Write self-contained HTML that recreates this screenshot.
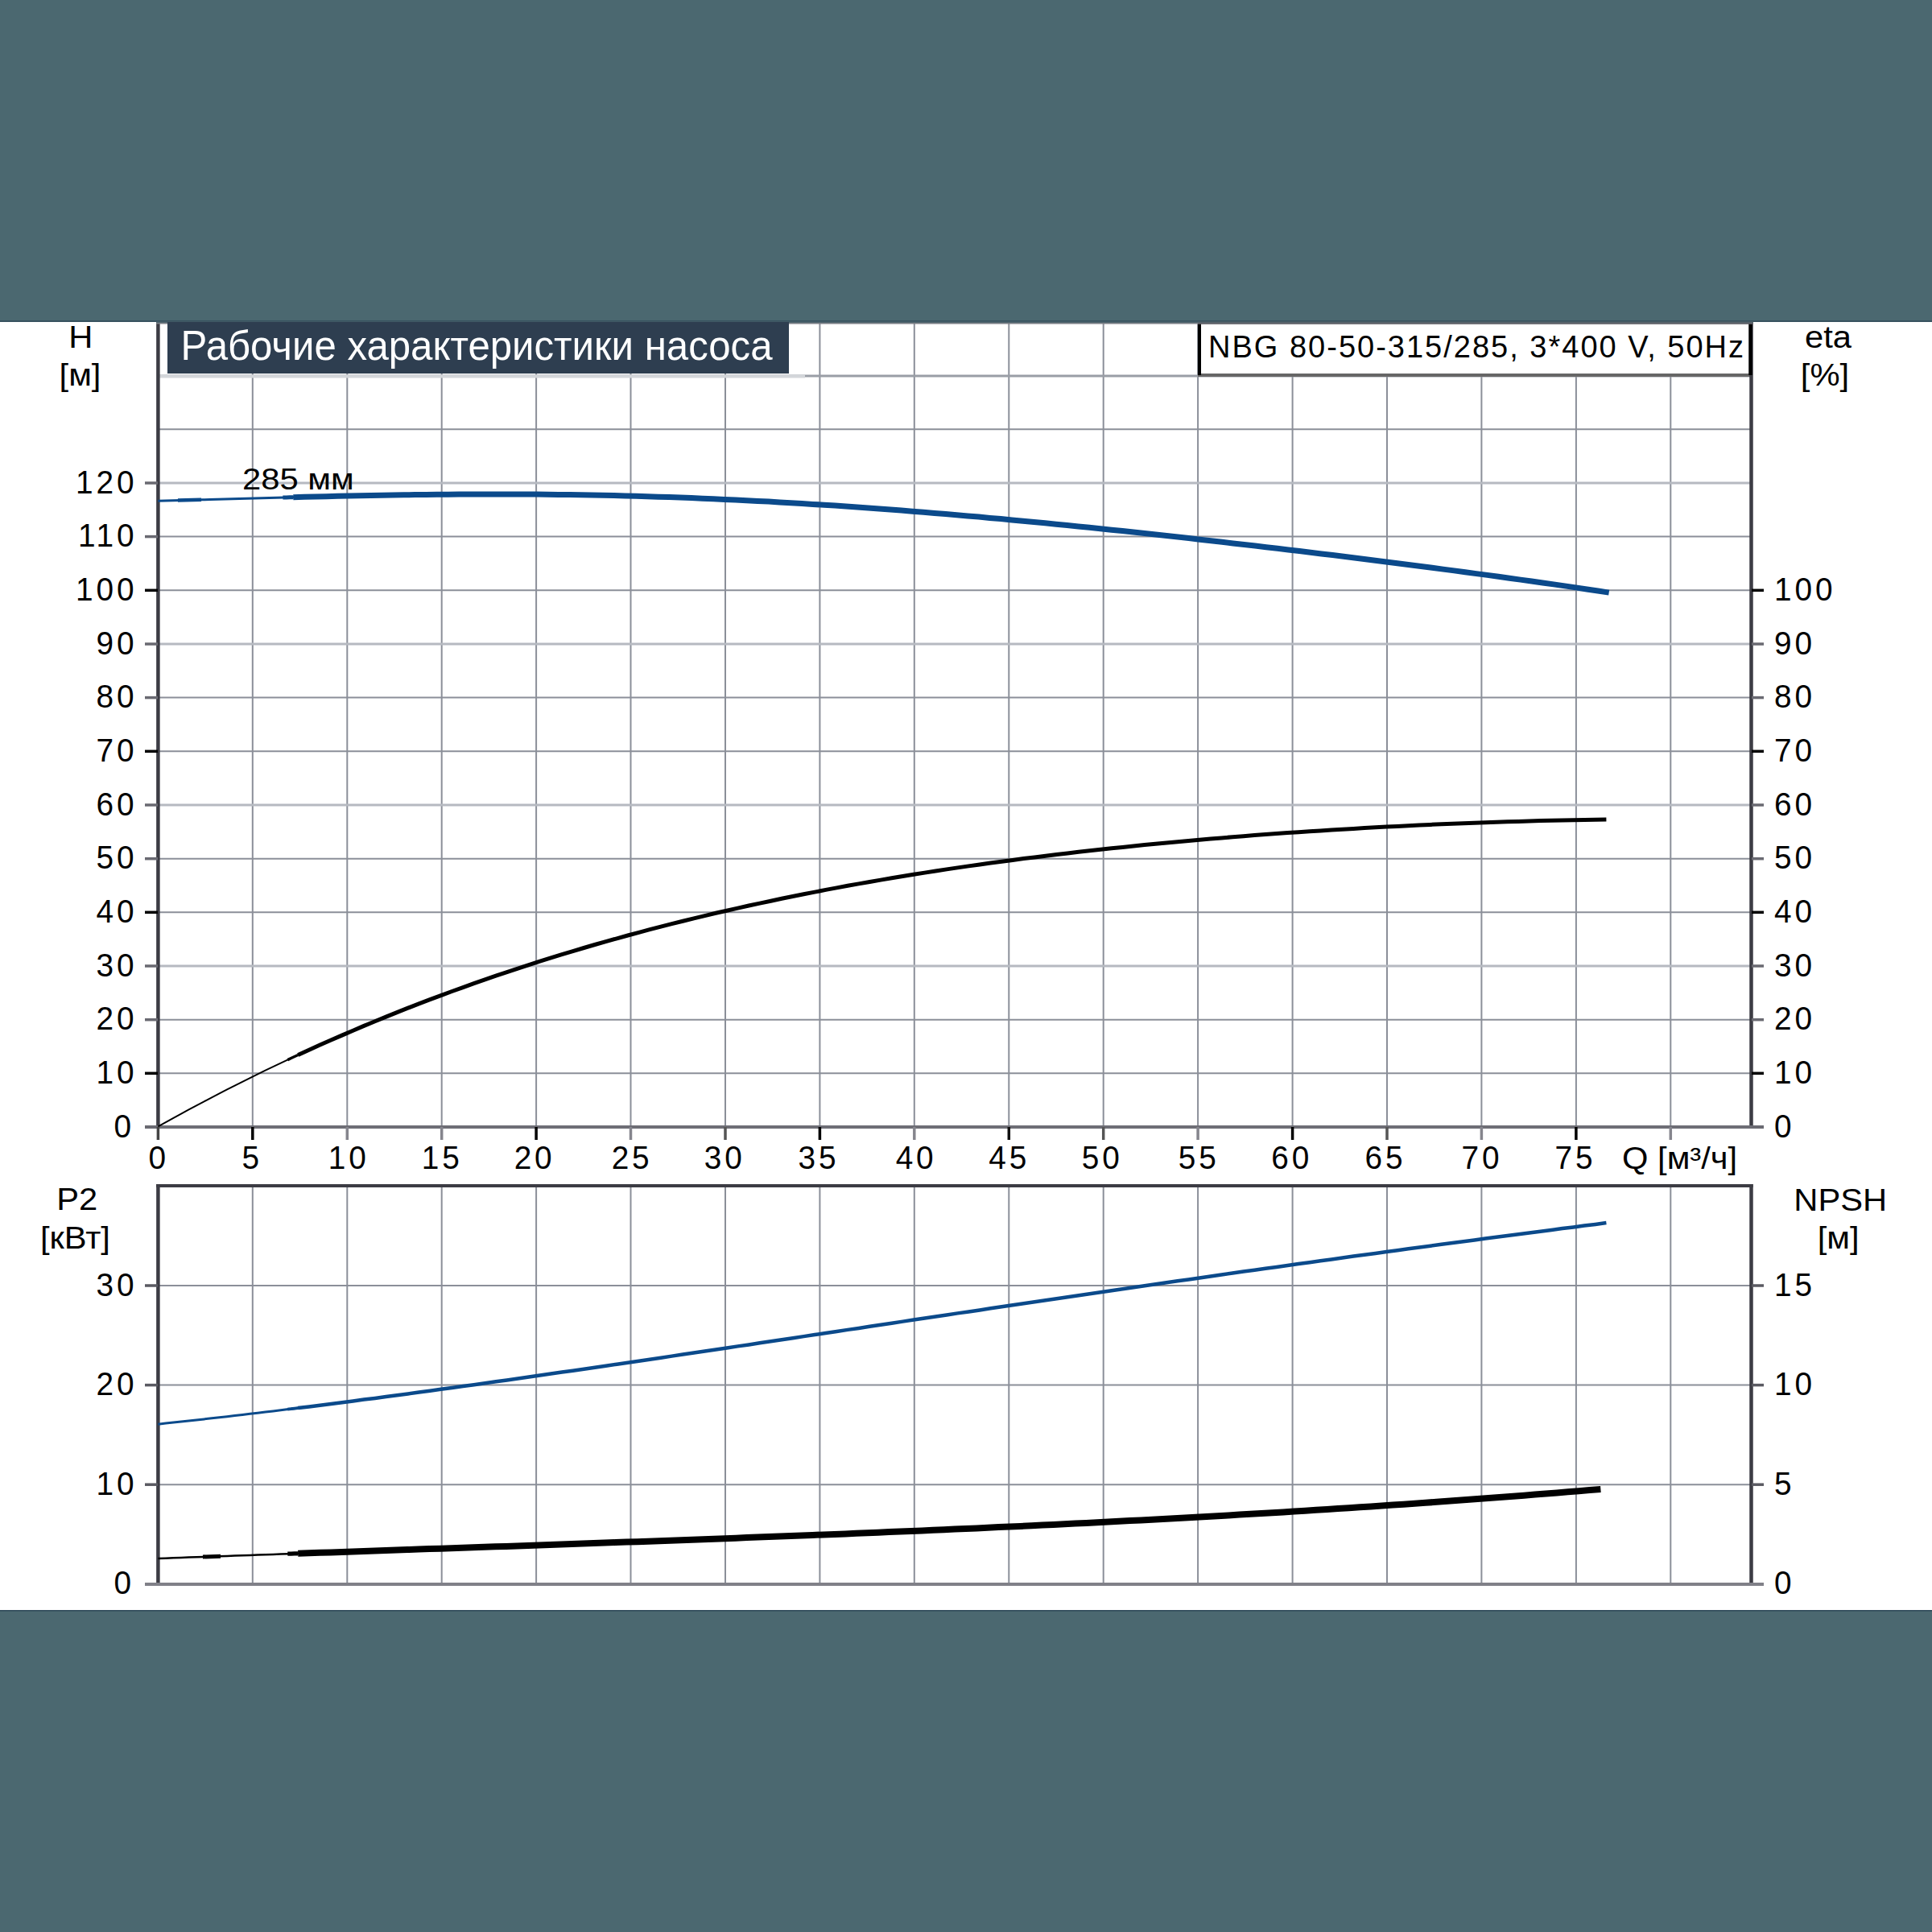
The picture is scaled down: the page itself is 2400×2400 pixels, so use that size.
<!DOCTYPE html><html><head><meta charset="utf-8"><style>html,body{margin:0;padding:0;background:#4b6870;}svg{display:block;}text{font-family:"Liberation Sans",sans-serif;}</style></head><body>
<svg width="2400" height="2400" viewBox="0 0 2400 2400">
<rect x="0" y="0" width="2400" height="2400" fill="#4b6870"/>
<rect x="0" y="400" width="2400" height="1600" fill="#ffffff"/>
<rect x="0" y="398" width="2400" height="2" fill="#37525f"/>
<rect x="0" y="2000" width="2400" height="1.6" fill="#304b5a"/>
<line x1="313.8" y1="400" x2="313.8" y2="1400" stroke="#8b8f99" stroke-width="2"/>
<line x1="431.3" y1="400" x2="431.3" y2="1400" stroke="#8b8f99" stroke-width="2"/>
<line x1="548.7" y1="400" x2="548.7" y2="1400" stroke="#8b8f99" stroke-width="2"/>
<line x1="666.1" y1="400" x2="666.1" y2="1400" stroke="#8b8f99" stroke-width="2"/>
<line x1="783.5" y1="400" x2="783.5" y2="1400" stroke="#8b8f99" stroke-width="2"/>
<line x1="901.0" y1="400" x2="901.0" y2="1400" stroke="#8b8f99" stroke-width="2"/>
<line x1="1018.4" y1="400" x2="1018.4" y2="1400" stroke="#8b8f99" stroke-width="2"/>
<line x1="1135.8" y1="400" x2="1135.8" y2="1400" stroke="#8b8f99" stroke-width="2"/>
<line x1="1253.3" y1="400" x2="1253.3" y2="1400" stroke="#8b8f99" stroke-width="2"/>
<line x1="1370.7" y1="400" x2="1370.7" y2="1400" stroke="#8b8f99" stroke-width="2"/>
<line x1="1488.1" y1="400" x2="1488.1" y2="1400" stroke="#8b8f99" stroke-width="2"/>
<line x1="1605.6" y1="400" x2="1605.6" y2="1400" stroke="#8b8f99" stroke-width="2"/>
<line x1="1723.0" y1="400" x2="1723.0" y2="1400" stroke="#8b8f99" stroke-width="2"/>
<line x1="1840.4" y1="400" x2="1840.4" y2="1400" stroke="#8b8f99" stroke-width="2"/>
<line x1="1957.9" y1="400" x2="1957.9" y2="1400" stroke="#8b8f99" stroke-width="2"/>
<line x1="2075.3" y1="400" x2="2075.3" y2="1400" stroke="#8b8f99" stroke-width="2"/>
<line x1="196" y1="1333.3" x2="2175" y2="1333.3" stroke="#8b8f99" stroke-width="2"/>
<line x1="196" y1="1266.7" x2="2175" y2="1266.7" stroke="#8b8f99" stroke-width="2"/>
<line x1="196" y1="1200.0" x2="2175" y2="1200.0" stroke="#b6bac1" stroke-width="3"/>
<line x1="196" y1="1133.3" x2="2175" y2="1133.3" stroke="#8b8f99" stroke-width="2"/>
<line x1="196" y1="1066.7" x2="2175" y2="1066.7" stroke="#8b8f99" stroke-width="2"/>
<line x1="196" y1="1000.0" x2="2175" y2="1000.0" stroke="#b6bac1" stroke-width="3"/>
<line x1="196" y1="933.3" x2="2175" y2="933.3" stroke="#8b8f99" stroke-width="2"/>
<line x1="196" y1="866.6" x2="2175" y2="866.6" stroke="#8b8f99" stroke-width="2"/>
<line x1="196" y1="800.0" x2="2175" y2="800.0" stroke="#b6bac1" stroke-width="3"/>
<line x1="196" y1="733.3" x2="2175" y2="733.3" stroke="#8b8f99" stroke-width="2"/>
<line x1="196" y1="666.6" x2="2175" y2="666.6" stroke="#8b8f99" stroke-width="2"/>
<line x1="196" y1="600.0" x2="2175" y2="600.0" stroke="#b6bac1" stroke-width="3"/>
<line x1="196" y1="533.3" x2="2175" y2="533.3" stroke="#8b8f99" stroke-width="2"/>
<line x1="198" y1="467" x2="2175" y2="467" stroke="#9a9ea6" stroke-width="3"/>
<line x1="198" y1="467.5" x2="1000" y2="467.5" stroke="#d3d6da" stroke-width="4"/>
<rect x="208" y="400" width="772" height="64" fill="#2e3e50"/>
<text x="224.5" y="447.4" font-size="52" fill="#ffffff" textLength="735" lengthAdjust="spacingAndGlyphs">Рабочие характеристики насоса</text>
<rect x="1488" y="400" width="688" height="65" fill="#ffffff"/>
<line x1="1488" y1="466" x2="2176" y2="466" stroke="#666" stroke-width="4"/>
<line x1="1490" y1="400" x2="1490" y2="466" stroke="#000" stroke-width="4"/>
<text x="1501" y="443.6" font-size="38" fill="#000" textLength="665" lengthAdjust="spacing">NBG 80-50-315/285, 3*400 V, 50Hz</text>
<line x1="196.4" y1="400" x2="196.4" y2="1402" stroke="#3c3c44" stroke-width="4.5"/>
<line x1="2175.5" y1="400" x2="2175.5" y2="1402" stroke="#3c3c44" stroke-width="4.5"/>
<line x1="2174.5" y1="400" x2="2174.5" y2="466" stroke="#000" stroke-width="4.5"/>
<line x1="180" y1="1400" x2="2191" y2="1400" stroke="#6e6e76" stroke-width="4"/>
<line x1="180" y1="1400.0" x2="196" y2="1400.0" stroke="#6a6a72" stroke-width="3.5"/>
<line x1="180" y1="1333.3" x2="196" y2="1333.3" stroke="#000" stroke-width="3.5"/>
<line x1="180" y1="1266.7" x2="196" y2="1266.7" stroke="#6a6a72" stroke-width="3.5"/>
<line x1="180" y1="1200.0" x2="196" y2="1200.0" stroke="#6a6a72" stroke-width="3.5"/>
<line x1="180" y1="1133.3" x2="196" y2="1133.3" stroke="#000" stroke-width="3.5"/>
<line x1="180" y1="1066.7" x2="196" y2="1066.7" stroke="#6a6a72" stroke-width="3.5"/>
<line x1="180" y1="1000.0" x2="196" y2="1000.0" stroke="#6a6a72" stroke-width="3.5"/>
<line x1="180" y1="933.3" x2="196" y2="933.3" stroke="#000" stroke-width="3.5"/>
<line x1="180" y1="866.6" x2="196" y2="866.6" stroke="#6a6a72" stroke-width="3.5"/>
<line x1="180" y1="800.0" x2="196" y2="800.0" stroke="#6a6a72" stroke-width="3.5"/>
<line x1="180" y1="733.3" x2="196" y2="733.3" stroke="#000" stroke-width="3.5"/>
<line x1="180" y1="666.6" x2="196" y2="666.6" stroke="#6a6a72" stroke-width="3.5"/>
<line x1="180" y1="600.0" x2="196" y2="600.0" stroke="#6a6a72" stroke-width="3.5"/>
<line x1="2176" y1="1400.0" x2="2191" y2="1400.0" stroke="#6a6a72" stroke-width="3.5"/>
<line x1="2176" y1="1333.3" x2="2191" y2="1333.3" stroke="#000" stroke-width="3.5"/>
<line x1="2176" y1="1266.7" x2="2191" y2="1266.7" stroke="#6a6a72" stroke-width="3.5"/>
<line x1="2176" y1="1200.0" x2="2191" y2="1200.0" stroke="#6a6a72" stroke-width="3.5"/>
<line x1="2176" y1="1133.3" x2="2191" y2="1133.3" stroke="#000" stroke-width="3.5"/>
<line x1="2176" y1="1066.7" x2="2191" y2="1066.7" stroke="#6a6a72" stroke-width="3.5"/>
<line x1="2176" y1="1000.0" x2="2191" y2="1000.0" stroke="#6a6a72" stroke-width="3.5"/>
<line x1="2176" y1="933.3" x2="2191" y2="933.3" stroke="#000" stroke-width="3.5"/>
<line x1="2176" y1="866.6" x2="2191" y2="866.6" stroke="#6a6a72" stroke-width="3.5"/>
<line x1="2176" y1="800.0" x2="2191" y2="800.0" stroke="#6a6a72" stroke-width="3.5"/>
<line x1="2176" y1="733.3" x2="2191" y2="733.3" stroke="#000" stroke-width="3.5"/>
<line x1="196.4" y1="1400" x2="196.4" y2="1416" stroke="#444" stroke-width="3.5"/>
<line x1="313.8" y1="1400" x2="313.8" y2="1416" stroke="#000" stroke-width="3.5"/>
<line x1="431.3" y1="1400" x2="431.3" y2="1416" stroke="#85858d" stroke-width="3.5"/>
<line x1="548.7" y1="1400" x2="548.7" y2="1416" stroke="#85858d" stroke-width="3.5"/>
<line x1="666.1" y1="1400" x2="666.1" y2="1416" stroke="#000" stroke-width="3.5"/>
<line x1="783.5" y1="1400" x2="783.5" y2="1416" stroke="#85858d" stroke-width="3.5"/>
<line x1="901.0" y1="1400" x2="901.0" y2="1416" stroke="#555" stroke-width="3.5"/>
<line x1="1018.4" y1="1400" x2="1018.4" y2="1416" stroke="#000" stroke-width="3.5"/>
<line x1="1135.8" y1="1400" x2="1135.8" y2="1416" stroke="#85858d" stroke-width="3.5"/>
<line x1="1253.3" y1="1400" x2="1253.3" y2="1416" stroke="#111" stroke-width="3.5"/>
<line x1="1370.7" y1="1400" x2="1370.7" y2="1416" stroke="#555" stroke-width="3.5"/>
<line x1="1488.1" y1="1400" x2="1488.1" y2="1416" stroke="#85858d" stroke-width="3.5"/>
<line x1="1605.6" y1="1400" x2="1605.6" y2="1416" stroke="#000" stroke-width="3.5"/>
<line x1="1723.0" y1="1400" x2="1723.0" y2="1416" stroke="#555" stroke-width="3.5"/>
<line x1="1840.4" y1="1400" x2="1840.4" y2="1416" stroke="#85858d" stroke-width="3.5"/>
<line x1="1957.9" y1="1400" x2="1957.9" y2="1416" stroke="#000" stroke-width="3.5"/>
<line x1="2075.3" y1="1400" x2="2075.3" y2="1416" stroke="#85858d" stroke-width="3.5"/>
<text transform="translate(166.9 1412.5) scale(0.970 1)" font-size="40" letter-spacing="4" text-anchor="end">0</text>
<text transform="translate(170.4 1345.8) scale(0.970 1)" font-size="40" letter-spacing="4" text-anchor="end">10</text>
<text transform="translate(170.4 1279.2) scale(0.970 1)" font-size="40" letter-spacing="4" text-anchor="end">20</text>
<text transform="translate(170.4 1212.5) scale(0.970 1)" font-size="40" letter-spacing="4" text-anchor="end">30</text>
<text transform="translate(170.4 1145.8) scale(0.970 1)" font-size="40" letter-spacing="4" text-anchor="end">40</text>
<text transform="translate(170.4 1079.2) scale(0.970 1)" font-size="40" letter-spacing="4" text-anchor="end">50</text>
<text transform="translate(170.4 1012.5) scale(0.970 1)" font-size="40" letter-spacing="4" text-anchor="end">60</text>
<text transform="translate(170.4 945.8) scale(0.970 1)" font-size="40" letter-spacing="4" text-anchor="end">70</text>
<text transform="translate(170.4 879.1) scale(0.970 1)" font-size="40" letter-spacing="4" text-anchor="end">80</text>
<text transform="translate(170.4 812.5) scale(0.970 1)" font-size="40" letter-spacing="4" text-anchor="end">90</text>
<text transform="translate(170.4 745.8) scale(0.970 1)" font-size="40" letter-spacing="4" text-anchor="end">100</text>
<text transform="translate(170.4 679.1) scale(0.970 1)" font-size="40" letter-spacing="4" text-anchor="end">110</text>
<text transform="translate(170.4 612.5) scale(0.970 1)" font-size="40" letter-spacing="4" text-anchor="end">120</text>
<text transform="translate(2204.0 1412.5) scale(0.970 1)" font-size="40" letter-spacing="4">0</text>
<text transform="translate(2204.0 1345.8) scale(0.970 1)" font-size="40" letter-spacing="4">10</text>
<text transform="translate(2204.0 1279.2) scale(0.970 1)" font-size="40" letter-spacing="4">20</text>
<text transform="translate(2204.0 1212.5) scale(0.970 1)" font-size="40" letter-spacing="4">30</text>
<text transform="translate(2204.0 1145.8) scale(0.970 1)" font-size="40" letter-spacing="4">40</text>
<text transform="translate(2204.0 1079.2) scale(0.970 1)" font-size="40" letter-spacing="4">50</text>
<text transform="translate(2204.0 1012.5) scale(0.970 1)" font-size="40" letter-spacing="4">60</text>
<text transform="translate(2204.0 945.8) scale(0.970 1)" font-size="40" letter-spacing="4">70</text>
<text transform="translate(2204.0 879.1) scale(0.970 1)" font-size="40" letter-spacing="4">80</text>
<text transform="translate(2204.0 812.5) scale(0.970 1)" font-size="40" letter-spacing="4">90</text>
<text transform="translate(2204.0 745.8) scale(0.970 1)" font-size="40" letter-spacing="4">100</text>
<text transform="translate(197.3 1452.0) scale(0.970 1)" font-size="40" letter-spacing="4" text-anchor="middle">0</text>
<text transform="translate(313.3 1452.0) scale(0.970 1)" font-size="40" letter-spacing="4" text-anchor="middle">5</text>
<text transform="translate(433.3 1452.0) scale(0.970 1)" font-size="40" letter-spacing="4" text-anchor="middle">10</text>
<text transform="translate(549.3 1452.0) scale(0.970 1)" font-size="40" letter-spacing="4" text-anchor="middle">15</text>
<text transform="translate(664.1 1452.0) scale(0.970 1)" font-size="40" letter-spacing="4" text-anchor="middle">20</text>
<text transform="translate(785.1 1452.0) scale(0.970 1)" font-size="40" letter-spacing="4" text-anchor="middle">25</text>
<text transform="translate(900.2 1452.0) scale(0.970 1)" font-size="40" letter-spacing="4" text-anchor="middle">30</text>
<text transform="translate(1016.9 1452.0) scale(0.970 1)" font-size="40" letter-spacing="4" text-anchor="middle">35</text>
<text transform="translate(1138.1 1452.0) scale(0.970 1)" font-size="40" letter-spacing="4" text-anchor="middle">40</text>
<text transform="translate(1253.7 1452.0) scale(0.970 1)" font-size="40" letter-spacing="4" text-anchor="middle">45</text>
<text transform="translate(1369.2 1452.0) scale(0.970 1)" font-size="40" letter-spacing="4" text-anchor="middle">50</text>
<text transform="translate(1489.3 1452.0) scale(0.970 1)" font-size="40" letter-spacing="4" text-anchor="middle">55</text>
<text transform="translate(1604.8 1452.0) scale(0.970 1)" font-size="40" letter-spacing="4" text-anchor="middle">60</text>
<text transform="translate(1720.9 1452.0) scale(0.970 1)" font-size="40" letter-spacing="4" text-anchor="middle">65</text>
<text transform="translate(1840.9 1452.0) scale(0.970 1)" font-size="40" letter-spacing="4" text-anchor="middle">70</text>
<text transform="translate(1957.0 1452.0) scale(0.970 1)" font-size="40" letter-spacing="4" text-anchor="middle">75</text>
<text transform="translate(2015.0 1451.6) scale(1.070 1)" font-size="39">Q [м³/ч]</text>
<text transform="translate(100.4 431.9) scale(1.070 1)" font-size="39" text-anchor="middle">H</text>
<text transform="translate(99.5 479.0) scale(1.070 1)" font-size="39" text-anchor="middle">[м]</text>
<text transform="translate(2271.0 431.7) scale(1.070 1)" font-size="39" text-anchor="middle">eta</text>
<text transform="translate(2267.0 479.0) scale(1.070 1)" font-size="39" text-anchor="middle">[%]</text>
<text transform="translate(301.0 607.6) scale(1.130 1)" font-size="37">285 мм</text>
<line x1="313.8" y1="1473" x2="313.8" y2="1968" stroke="#8b8f99" stroke-width="2"/>
<line x1="431.3" y1="1473" x2="431.3" y2="1968" stroke="#8b8f99" stroke-width="2"/>
<line x1="548.7" y1="1473" x2="548.7" y2="1968" stroke="#8b8f99" stroke-width="2"/>
<line x1="666.1" y1="1473" x2="666.1" y2="1968" stroke="#8b8f99" stroke-width="2"/>
<line x1="783.5" y1="1473" x2="783.5" y2="1968" stroke="#8b8f99" stroke-width="2"/>
<line x1="901.0" y1="1473" x2="901.0" y2="1968" stroke="#8b8f99" stroke-width="2"/>
<line x1="1018.4" y1="1473" x2="1018.4" y2="1968" stroke="#8b8f99" stroke-width="2"/>
<line x1="1135.8" y1="1473" x2="1135.8" y2="1968" stroke="#8b8f99" stroke-width="2"/>
<line x1="1253.3" y1="1473" x2="1253.3" y2="1968" stroke="#8b8f99" stroke-width="2"/>
<line x1="1370.7" y1="1473" x2="1370.7" y2="1968" stroke="#8b8f99" stroke-width="2"/>
<line x1="1488.1" y1="1473" x2="1488.1" y2="1968" stroke="#8b8f99" stroke-width="2"/>
<line x1="1605.6" y1="1473" x2="1605.6" y2="1968" stroke="#8b8f99" stroke-width="2"/>
<line x1="1723.0" y1="1473" x2="1723.0" y2="1968" stroke="#8b8f99" stroke-width="2"/>
<line x1="1840.4" y1="1473" x2="1840.4" y2="1968" stroke="#8b8f99" stroke-width="2"/>
<line x1="1957.9" y1="1473" x2="1957.9" y2="1968" stroke="#8b8f99" stroke-width="2"/>
<line x1="2075.3" y1="1473" x2="2075.3" y2="1968" stroke="#8b8f99" stroke-width="2"/>
<line x1="196" y1="1844.2" x2="2175" y2="1844.2" stroke="#8b8f99" stroke-width="2"/>
<line x1="196" y1="1720.6" x2="2175" y2="1720.6" stroke="#8b8f99" stroke-width="2"/>
<line x1="196" y1="1597.0" x2="2175" y2="1597.0" stroke="#8b8f99" stroke-width="2"/>
<line x1="194" y1="1473" x2="2177.7" y2="1473" stroke="#3c3c44" stroke-width="4"/>
<line x1="196.4" y1="1471" x2="196.4" y2="1970" stroke="#3c3c44" stroke-width="4.5"/>
<line x1="2175.5" y1="1471" x2="2175.5" y2="1970" stroke="#3c3c44" stroke-width="4.5"/>
<line x1="180" y1="1968" x2="2191" y2="1968" stroke="#808088" stroke-width="4"/>
<line x1="180" y1="1967.8" x2="196" y2="1967.8" stroke="#808088" stroke-width="3.5"/>
<line x1="2176" y1="1967.8" x2="2191" y2="1967.8" stroke="#808088" stroke-width="3.5"/>
<text transform="translate(166.9 1980.3) scale(0.970 1)" font-size="40" letter-spacing="4" text-anchor="end">0</text>
<text transform="translate(2204.0 1980.3) scale(0.970 1)" font-size="40" letter-spacing="4">0</text>
<line x1="180" y1="1844.2" x2="196" y2="1844.2" stroke="#5a5a62" stroke-width="3.5"/>
<line x1="2176" y1="1844.2" x2="2191" y2="1844.2" stroke="#5a5a62" stroke-width="3.5"/>
<text transform="translate(170.4 1856.7) scale(0.970 1)" font-size="40" letter-spacing="4" text-anchor="end">10</text>
<text transform="translate(2204.0 1856.7) scale(0.970 1)" font-size="40" letter-spacing="4">5</text>
<line x1="180" y1="1720.6" x2="196" y2="1720.6" stroke="#5a5a62" stroke-width="3.5"/>
<line x1="2176" y1="1720.6" x2="2191" y2="1720.6" stroke="#5a5a62" stroke-width="3.5"/>
<text transform="translate(170.4 1733.1) scale(0.970 1)" font-size="40" letter-spacing="4" text-anchor="end">20</text>
<text transform="translate(2204.0 1733.1) scale(0.970 1)" font-size="40" letter-spacing="4">10</text>
<line x1="180" y1="1597.0" x2="196" y2="1597.0" stroke="#5a5a62" stroke-width="3.5"/>
<line x1="2176" y1="1597.0" x2="2191" y2="1597.0" stroke="#5a5a62" stroke-width="3.5"/>
<text transform="translate(170.4 1609.5) scale(0.970 1)" font-size="40" letter-spacing="4" text-anchor="end">30</text>
<text transform="translate(2204.0 1609.5) scale(0.970 1)" font-size="40" letter-spacing="4">15</text>
<text transform="translate(95.8 1503.4) scale(1.070 1)" font-size="39" text-anchor="middle">P2</text>
<text transform="translate(93.4 1551.0) scale(1.070 1)" font-size="39" text-anchor="middle">[кВт]</text>
<text transform="translate(2286.3 1504.0) scale(1.070 1)" font-size="39" text-anchor="middle">NPSH</text>
<text transform="translate(2283.7 1551.0) scale(1.070 1)" font-size="39" text-anchor="middle">[м]</text>
<rect x="194" y="399.5" width="1294" height="1.5" fill="#4f656e"/>
<rect x="194" y="401" width="1294" height="1.5" fill="#7b7f86"/>
<rect x="1488" y="399.5" width="690" height="1.5" fill="#56646c"/>
<rect x="1488" y="401" width="690" height="1.8" fill="#5f6168"/>
<rect x="208" y="400" width="772" height="3" fill="#2e3e50"/>
<path d="M196.4 622.2 L205.6 622.0 L214.8 621.7 L224.0 621.5 L233.2 621.3 L242.4 621.0 L251.7 620.8 L260.9 620.5 L270.1 620.3 L279.3 620.0 L288.5 619.8 L297.7 619.5 L306.9 619.2 L316.1 619.0 L325.3 618.7 L334.5 618.5 L343.7 618.2 L353.0 618.0 L362.2 617.7 L371.4 617.5" fill="none" stroke="#0b4a8b" stroke-width="3.0" stroke-linecap="butt" stroke-linejoin="round"/><path d="M351.4 618.0 L355.7 617.9 L360.0 617.8 L364.3 617.7" fill="none" stroke="#0b4a8b" stroke-width="5.0" stroke-linecap="butt" stroke-linejoin="round"/><path d="M364.3 617.7 L378.1 617.3 L391.8 617.0 L405.5 616.7 L419.3 616.3 L433.0 616.0 L446.7 615.7 L460.5 615.5 L474.2 615.2 L487.9 615.0 L501.7 614.8 L515.4 614.6 L529.1 614.4 L542.9 614.3 L556.6 614.2 L570.3 614.1 L584.1 614.0 L597.8 613.9 L611.5 613.9 L625.3 613.9 L639.0 614.0 L652.7 614.0 L666.5 614.1 L680.2 614.3 L693.9 614.4 L707.7 614.6 L721.4 614.8 L735.2 615.1 L748.9 615.3 L762.6 615.6 L776.4 616.0 L790.1 616.3 L803.8 616.7 L817.6 617.2 L831.3 617.6 L845.0 618.1 L858.8 618.6 L872.5 619.2 L886.2 619.8 L900.0 620.4 L913.7 621.0 L927.4 621.7 L941.2 622.4 L954.9 623.1 L968.6 623.9 L982.4 624.7 L996.1 625.5 L1009.8 626.4 L1023.6 627.2 L1037.3 628.1 L1051.0 629.1 L1064.8 630.0 L1078.5 631.0 L1092.2 632.0 L1106.0 633.0 L1119.7 634.1 L1133.4 635.2 L1147.2 636.3 L1160.9 637.4 L1174.7 638.5 L1188.4 639.7 L1202.1 640.9 L1215.9 642.1 L1229.6 643.4 L1243.3 644.6 L1257.1 645.9 L1270.8 647.2 L1284.5 648.5 L1298.3 649.8 L1312.0 651.2 L1325.7 652.6 L1339.5 653.9 L1353.2 655.3 L1366.9 656.8 L1380.7 658.2 L1394.4 659.6 L1408.1 661.1 L1421.9 662.6 L1435.6 664.1 L1449.3 665.6 L1463.1 667.1 L1476.8 668.6 L1490.5 670.2 L1504.3 671.7 L1518.0 673.3 L1531.7 674.9 L1545.5 676.5 L1559.2 678.1 L1572.9 679.7 L1586.7 681.3 L1600.4 683.0 L1614.2 684.6 L1627.9 686.3 L1641.6 688.0 L1655.4 689.6 L1669.1 691.3 L1682.8 693.0 L1696.6 694.8 L1710.3 696.5 L1724.0 698.2 L1737.8 700.0 L1751.5 701.7 L1765.2 703.5 L1779.0 705.3 L1792.7 707.1 L1806.4 708.9 L1820.2 710.7 L1833.9 712.6 L1847.6 714.4 L1861.4 716.3 L1875.1 718.2 L1888.8 720.1 L1902.6 722.0 L1916.3 724.0 L1930.0 725.9 L1943.8 727.9 L1957.5 729.9 L1971.2 732.0 L1985.0 734.0 L1998.7 736.1" fill="none" stroke="#0b4a8b" stroke-width="7.0" stroke-linecap="butt" stroke-linejoin="round"/>
<path d="M196.4 1399.4 L205.9 1394.1 L215.4 1388.8 L225.0 1383.6 L234.5 1378.4 L244.0 1373.3 L253.5 1368.3 L263.0 1363.3 L272.5 1358.3 L282.1 1353.4 L291.6 1348.6 L301.1 1343.8 L310.6 1339.1 L320.1 1334.4 L329.7 1329.7 L339.2 1325.2 L348.7 1320.6 L358.2 1316.1 L367.7 1311.7 L377.2 1307.3" fill="none" stroke="#000" stroke-width="2.0" stroke-linecap="butt" stroke-linejoin="round"/><path d="M357.3 1316.6 L361.6 1314.5 L365.9 1312.5 L370.2 1310.5" fill="none" stroke="#000" stroke-width="3.5" stroke-linecap="butt" stroke-linejoin="round"/><path d="M370.2 1310.5 L383.9 1304.3 L397.5 1298.1 L411.2 1292.0 L424.8 1286.1 L438.5 1280.2 L452.1 1274.4 L465.8 1268.7 L479.5 1263.1 L493.1 1257.6 L506.8 1252.2 L520.4 1246.9 L534.1 1241.7 L547.7 1236.6 L561.4 1231.5 L575.1 1226.6 L588.7 1221.7 L602.4 1216.9 L616.0 1212.2 L629.7 1207.6 L643.3 1203.1 L657.0 1198.6 L670.7 1194.2 L684.3 1189.9 L698.0 1185.7 L711.6 1181.6 L725.3 1177.5 L738.9 1173.5 L752.6 1169.6 L766.3 1165.8 L779.9 1162.0 L793.6 1158.3 L807.2 1154.7 L820.9 1151.1 L834.5 1147.6 L848.2 1144.2 L861.9 1140.9 L875.5 1137.6 L889.2 1134.3 L902.8 1131.2 L916.5 1128.1 L930.2 1125.0 L943.8 1122.1 L957.5 1119.2 L971.1 1116.3 L984.8 1113.5 L998.4 1110.8 L1012.1 1108.1 L1025.8 1105.4 L1039.4 1102.9 L1053.1 1100.3 L1066.7 1097.9 L1080.4 1095.5 L1094.0 1093.1 L1107.7 1090.8 L1121.4 1088.5 L1135.0 1086.3 L1148.7 1084.1 L1162.3 1082.0 L1176.0 1079.9 L1189.6 1077.9 L1203.3 1075.9 L1217.0 1074.0 L1230.6 1072.1 L1244.3 1070.2 L1257.9 1068.4 L1271.6 1066.6 L1285.2 1064.9 L1298.9 1063.2 L1312.6 1061.5 L1326.2 1059.9 L1339.9 1058.3 L1353.5 1056.8 L1367.2 1055.3 L1380.8 1053.8 L1394.5 1052.4 L1408.2 1051.0 L1421.8 1049.6 L1435.5 1048.2 L1449.1 1046.9 L1462.8 1045.7 L1476.4 1044.4 L1490.1 1043.2 L1503.8 1042.1 L1517.4 1040.9 L1531.1 1039.8 L1544.7 1038.7 L1558.4 1037.6 L1572.0 1036.6 L1585.7 1035.6 L1599.4 1034.6 L1613.0 1033.7 L1626.7 1032.8 L1640.3 1031.9 L1654.0 1031.0 L1667.6 1030.2 L1681.3 1029.4 L1695.0 1028.6 L1708.6 1027.8 L1722.3 1027.1 L1735.9 1026.4 L1749.6 1025.7 L1763.3 1025.1 L1776.9 1024.4 L1790.6 1023.8 L1804.2 1023.3 L1817.9 1022.7 L1831.5 1022.2 L1845.2 1021.7 L1858.9 1021.2 L1872.5 1020.8 L1886.2 1020.4 L1899.8 1020.0 L1913.5 1019.6 L1927.1 1019.3 L1940.8 1018.9 L1954.5 1018.7 L1968.1 1018.4 L1981.8 1018.2 L1995.4 1018.0" fill="none" stroke="#000" stroke-width="5.0" stroke-linecap="butt" stroke-linejoin="round"/>
<path d="M196.4 1769.2 L205.9 1768.1 L215.4 1767.1 L225.0 1766.1 L234.5 1765.0 L244.0 1764.0 L253.5 1762.9 L263.0 1761.8 L272.5 1760.8 L282.1 1759.7 L291.6 1758.6 L301.1 1757.4 L310.6 1756.3 L320.1 1755.2 L329.7 1754.1 L339.2 1752.9 L348.7 1751.7 L358.2 1750.6 L367.7 1749.4 L377.2 1748.2" fill="none" stroke="#0b4a8b" stroke-width="3.0" stroke-linecap="butt" stroke-linejoin="round"/><path d="M357.3 1750.7 L361.6 1750.2 L365.9 1749.6 L370.2 1749.1" fill="none" stroke="#0b4a8b" stroke-width="3.8" stroke-linecap="butt" stroke-linejoin="round"/><path d="M370.2 1749.1 L383.9 1747.4 L397.5 1745.7 L411.2 1743.9 L424.8 1742.2 L438.5 1740.4 L452.1 1738.6 L465.8 1736.9 L479.5 1735.0 L493.1 1733.2 L506.8 1731.4 L520.4 1729.6 L534.1 1727.7 L547.7 1725.8 L561.4 1724.0 L575.1 1722.1 L588.7 1720.2 L602.4 1718.3 L616.0 1716.3 L629.7 1714.4 L643.3 1712.5 L657.0 1710.5 L670.7 1708.6 L684.3 1706.6 L698.0 1704.6 L711.6 1702.7 L725.3 1700.7 L738.9 1698.7 L752.6 1696.7 L766.3 1694.7 L779.9 1692.7 L793.6 1690.7 L807.2 1688.7 L820.9 1686.7 L834.5 1684.6 L848.2 1682.6 L861.9 1680.6 L875.5 1678.5 L889.2 1676.5 L902.8 1674.5 L916.5 1672.4 L930.2 1670.4 L943.8 1668.3 L957.5 1666.3 L971.1 1664.2 L984.8 1662.2 L998.4 1660.1 L1012.1 1658.1 L1025.8 1656.0 L1039.4 1654.0 L1053.1 1651.9 L1066.7 1649.9 L1080.4 1647.8 L1094.0 1645.7 L1107.7 1643.7 L1121.4 1641.6 L1135.0 1639.6 L1148.7 1637.6 L1162.3 1635.5 L1176.0 1633.5 L1189.6 1631.4 L1203.3 1629.4 L1217.0 1627.4 L1230.6 1625.3 L1244.3 1623.3 L1257.9 1621.3 L1271.6 1619.2 L1285.2 1617.2 L1298.9 1615.2 L1312.6 1613.2 L1326.2 1611.2 L1339.9 1609.2 L1353.5 1607.2 L1367.2 1605.2 L1380.8 1603.2 L1394.5 1601.2 L1408.2 1599.2 L1421.8 1597.2 L1435.5 1595.3 L1449.1 1593.3 L1462.8 1591.3 L1476.4 1589.4 L1490.1 1587.4 L1503.8 1585.5 L1517.4 1583.5 L1531.1 1581.6 L1544.7 1579.6 L1558.4 1577.7 L1572.0 1575.8 L1585.7 1573.9 L1599.4 1572.0 L1613.0 1570.1 L1626.7 1568.2 L1640.3 1566.3 L1654.0 1564.4 L1667.6 1562.5 L1681.3 1560.6 L1695.0 1558.8 L1708.6 1556.9 L1722.3 1555.0 L1735.9 1553.2 L1749.6 1551.3 L1763.3 1549.5 L1776.9 1547.7 L1790.6 1545.8 L1804.2 1544.0 L1817.9 1542.2 L1831.5 1540.4 L1845.2 1538.6 L1858.9 1536.8 L1872.5 1535.0 L1886.2 1533.2 L1899.8 1531.4 L1913.5 1529.7 L1927.1 1527.9 L1940.8 1526.1 L1954.5 1524.4 L1968.1 1522.6 L1981.8 1520.9 L1995.4 1519.1" fill="none" stroke="#0b4a8b" stroke-width="4.5" stroke-linecap="butt" stroke-linejoin="round"/>
<path d="M196.4 1936.0 L205.9 1935.7 L215.4 1935.3 L225.0 1935.0 L234.5 1934.6 L244.0 1934.3 L253.5 1933.9 L263.0 1933.6 L272.5 1933.2 L282.1 1932.9 L291.6 1932.6 L301.1 1932.2 L310.6 1931.9 L320.1 1931.5 L329.7 1931.2 L339.2 1930.9 L348.7 1930.5 L358.2 1930.2 L367.7 1929.9 L377.2 1929.5" fill="none" stroke="#000" stroke-width="2.5" stroke-linecap="butt" stroke-linejoin="round"/><path d="M357.3 1930.2 L361.6 1930.1 L365.9 1929.9 L370.2 1929.8" fill="none" stroke="#000" stroke-width="5.2" stroke-linecap="butt" stroke-linejoin="round"/><path d="M370.2 1929.8 L383.8 1929.3 L397.4 1928.8 L411.0 1928.4 L424.6 1927.9 L438.2 1927.4 L451.8 1926.9 L465.4 1926.5 L479.0 1926.0 L492.6 1925.5 L506.2 1925.1 L519.8 1924.6 L533.4 1924.1 L547.0 1923.7 L560.6 1923.2 L574.2 1922.7 L587.8 1922.3 L601.4 1921.8 L615.0 1921.3 L628.6 1920.9 L642.2 1920.4 L655.8 1919.9 L669.4 1919.5 L683.0 1919.0 L696.6 1918.5 L710.2 1918.0 L723.7 1917.6 L737.3 1917.1 L750.9 1916.6 L764.5 1916.1 L778.1 1915.6 L791.7 1915.2 L805.3 1914.7 L818.9 1914.2 L832.5 1913.7 L846.1 1913.2 L859.7 1912.7 L873.3 1912.2 L886.9 1911.7 L900.5 1911.2 L914.1 1910.7 L927.7 1910.1 L941.3 1909.6 L954.9 1909.1 L968.5 1908.6 L982.1 1908.1 L995.7 1907.5 L1009.3 1907.0 L1022.9 1906.4 L1036.5 1905.9 L1050.1 1905.4 L1063.7 1904.8 L1077.3 1904.2 L1090.9 1903.7 L1104.5 1903.1 L1118.1 1902.5 L1131.7 1902.0 L1145.3 1901.4 L1158.9 1900.8 L1172.5 1900.2 L1186.1 1899.6 L1199.7 1899.0 L1213.3 1898.4 L1226.9 1897.8 L1240.5 1897.1 L1254.1 1896.5 L1267.7 1895.9 L1281.3 1895.2 L1294.9 1894.6 L1308.5 1893.9 L1322.1 1893.3 L1335.7 1892.6 L1349.3 1891.9 L1362.9 1891.2 L1376.5 1890.5 L1390.1 1889.8 L1403.7 1889.1 L1417.3 1888.4 L1430.9 1887.7 L1444.5 1887.0 L1458.1 1886.2 L1471.7 1885.5 L1485.2 1884.7 L1498.8 1884.0 L1512.4 1883.2 L1526.0 1882.4 L1539.6 1881.6 L1553.2 1880.8 L1566.8 1880.0 L1580.4 1879.2 L1594.0 1878.4 L1607.6 1877.5 L1621.2 1876.7 L1634.8 1875.8 L1648.4 1875.0 L1662.0 1874.1 L1675.6 1873.2 L1689.2 1872.3 L1702.8 1871.4 L1716.4 1870.5 L1730.0 1869.6 L1743.6 1868.7 L1757.2 1867.7 L1770.8 1866.8 L1784.4 1865.8 L1798.0 1864.8 L1811.6 1863.8 L1825.2 1862.8 L1838.8 1861.8 L1852.4 1860.8 L1866.0 1859.8 L1879.6 1858.7 L1893.2 1857.7 L1906.8 1856.6 L1920.4 1855.5 L1934.0 1854.4 L1947.6 1853.3 L1961.2 1852.2 L1974.8 1851.0 L1988.4 1849.9" fill="none" stroke="#000" stroke-width="8.0" stroke-linecap="butt" stroke-linejoin="round"/>
<line x1="252" y1="1934.0" x2="274" y2="1933.2" stroke="#000" stroke-width="5"/>
<line x1="221" y1="621.6" x2="250" y2="620.8" stroke="#0b4a8b" stroke-width="4.5"/>
</svg></body></html>
